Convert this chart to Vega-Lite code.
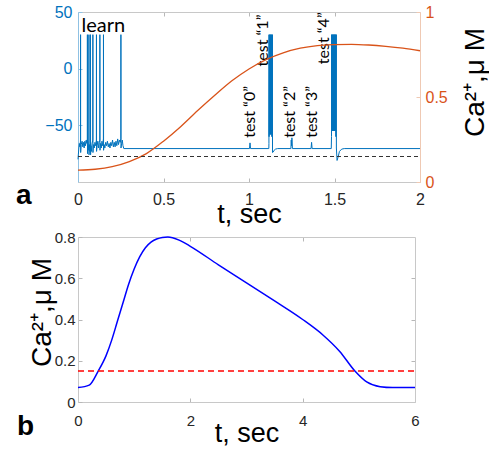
{
  "$schema": "https://vega.github.io/schema/vega-lite/v6.json",
  "background": "white",
  "padding": {"left": 16, "top": 4, "right": 0, "bottom": 0},
  "spacing": 3,
  "config": {
    "view": {"stroke": null},
    "axis": {
      "grid": false,
      "labelFont": "Liberation Sans",
      "titleFont": "Liberation Sans",
      "titleFontWeight": "normal",
      "labelColor": "#262626",
      "titleColor": "#000000",
      "tickSize": -4,
      "tickWidth": 1,
      "domainWidth": 1,
      "labelFontSize": 16,
      "titleFontSize": 27,
      "labelFlush": false,
      "domainColor": "#c8c8c8",
      "tickColor": "#b8b8b8"
    }
  },
  "vconcat": [
    {
      "width": 342,
      "height": 170,
      "title": {"text": "a", "orient": "bottom", "anchor": "start", "frame": "group", "font": "Liberation Sans", "fontSize": 28, "fontWeight": "bold", "color": "#000000", "offset": 0, "dx": -62, "dy": -45},
      "layer": [
        {
          "layer": [
            {
              "data": {"values": [
                {"t":0,"v":-80},{"t":0.002,"v":-76},{"t":0.005,"v":-70},{"t":0.008,"v":-66},{"t":0.011,"v":-69},{"t":0.0145,"v":-64},
                {"t":0.015,"v":30},{"t":0.0155,"v":-74},{"t":0.019,"v":-67},{"t":0.024,"v":-64},{"t":0.028,"v":-69},{"t":0.032,"v":-65},{"t":0.036,"v":-70},{"t":0.040,"v":-64},{"t":0.044,"v":-68},{"t":0.048,"v":-63},{"t":0.052,"v":-66},
                {"t":0.0545,"v":-62},{"t":0.055,"v":30},{"t":0.0555,"v":-75},{"t":0.058,"v":-68},{"t":0.0605,"v":-72},{"t":0.0635,"v":-63},
                {"t":0.064,"v":30},{"t":0.0645,"v":-76},{"t":0.067,"v":-67},{"t":0.070,"v":-73},{"t":0.0725,"v":-62},
                {"t":0.073,"v":30},{"t":0.0735,"v":-76},{"t":0.076,"v":-68},{"t":0.079,"v":-73},{"t":0.082,"v":-66},{"t":0.0865,"v":-63},
                {"t":0.087,"v":30},{"t":0.0875,"v":-74},{"t":0.091,"v":-67},{"t":0.095,"v":-70},{"t":0.099,"v":-65},{"t":0.103,"v":-68},{"t":0.1075,"v":-63},
                {"t":0.108,"v":30},{"t":0.1085,"v":-73},{"t":0.112,"v":-68},{"t":0.116,"v":-64},{"t":0.120,"v":-70},{"t":0.124,"v":-65},{"t":0.1275,"v":-63},
                {"t":0.128,"v":30},{"t":0.1285,"v":-72},{"t":0.132,"v":-66},{"t":0.136,"v":-70},{"t":0.140,"v":-64},{"t":0.144,"v":-68},{"t":0.1485,"v":-62},
                {"t":0.149,"v":30},{"t":0.1495,"v":-72},{"t":0.153,"v":-67},{"t":0.157,"v":-70},{"t":0.162,"v":-65},{"t":0.167,"v":-68},{"t":0.172,"v":-64},{"t":0.177,"v":-69},{"t":0.182,"v":-66},{"t":0.187,"v":-70},{"t":0.192,"v":-65},{"t":0.197,"v":-68},{"t":0.202,"v":-63},{"t":0.207,"v":-69},{"t":0.212,"v":-65},{"t":0.217,"v":-69},{"t":0.222,"v":-64},{"t":0.227,"v":-68},{"t":0.232,"v":-62},{"t":0.237,"v":-67},{"t":0.242,"v":-63},{"t":0.247,"v":-65},
                {"t":0.2505,"v":-62},{"t":0.251,"v":30},{"t":0.2515,"v":-70},{"t":0.255,"v":-66},{"t":0.259,"v":-63},{"t":0.263,"v":-68},{"t":0.268,"v":-70.5},
                {"t":1.003,"v":-70.5},{"t":1.006,"v":-65.5},{"t":1.009,"v":-70.5},
                {"t":1.116,"v":-70.5},{"t":1.1165,"v":-66},{"t":1.117,"v":30},{"t":1.1175,"v":-60},{"t":1.121,"v":30},{"t":1.1215,"v":-58},{"t":1.125,"v":30},{"t":1.1255,"v":-58},{"t":1.129,"v":30},{"t":1.1295,"v":-58},{"t":1.133,"v":30},{"t":1.1335,"v":-60},{"t":1.137,"v":30},{"t":1.1375,"v":-74},{"t":1.142,"v":-73.5},{"t":1.147,"v":-72},{"t":1.155,"v":-71},{"t":1.167,"v":-70.5},
                {"t":1.245,"v":-70.5},{"t":1.247,"v":-63},{"t":1.249,"v":-68},{"t":1.251,"v":-61},{"t":1.254,"v":-70.5},
                {"t":1.363,"v":-70.5},{"t":1.366,"v":-65},{"t":1.369,"v":-70.5},
                {"t":1.481,"v":-70.5},{"t":1.4825,"v":-60},{"t":1.483,"v":30},{"t":1.4835,"v":-55},{"t":1.4865,"v":30},{"t":1.487,"v":-55},{"t":1.490,"v":30},{"t":1.4905,"v":-55},{"t":1.4935,"v":30},{"t":1.494,"v":-55},{"t":1.497,"v":30},{"t":1.4975,"v":-55},{"t":1.5005,"v":30},{"t":1.501,"v":-55},{"t":1.504,"v":30},{"t":1.5045,"v":-55},{"t":1.5075,"v":30},{"t":1.508,"v":-60},{"t":1.5105,"v":30},{"t":1.511,"v":-70},{"t":1.515,"v":-81},{"t":1.521,"v":-78},{"t":1.529,"v":-73},{"t":1.542,"v":-71},{"t":1.557,"v":-70.5},
                {"t":2.0,"v":-70.5}
              ]},
              "mark": {"type": "line", "color": "#0072BD", "strokeWidth": 1},
              "encoding": {
                "x": {"field": "t", "type": "quantitative", "scale": {"domain": [0, 2], "nice": false},
                  "axis": {"orient": "bottom", "values": [0, 0.5, 1, 1.5, 2], "format": "~g", "title": "t, sec", "labelPadding": 13, "titleY": 40, "titleBaseline": "alphabetic"}},
                "y": {"field": "v", "type": "quantitative", "scale": {"domain": [-100, 50], "nice": false, "zero": false},
                  "axis": {"orient": "left", "values": [-50, 0, 50], "title": null, "labelColor": "#0072BD", "domainColor": "#8fc1e3", "tickColor": "#8fc1e3", "labelPadding": 10}}
              }
            },
            {
              "data": {"values": [{"t": 0.02, "v": 32, "label": "learn"}]},
              "mark": {"type": "text", "align": "left", "baseline": "alphabetic", "font": "Lato", "fontSize": 20, "color": "#000000"},
              "encoding": {
                "x": {"field": "t", "type": "quantitative"},
                "y": {"field": "v", "type": "quantitative"},
                "text": {"field": "label"}
              }
            },
            {
              "data": {"values": [
                {"t": 1.035, "v": -61, "label": "test “0”"},
                {"t": 1.111, "v": 2, "label": "test “1”"},
                {"t": 1.269, "v": -61, "label": "test “2”"},
                {"t": 1.398, "v": -61, "label": "test “3”"},
                {"t": 1.468, "v": 4, "label": "test “4”"}
              ]},
              "mark": {"type": "text", "angle": 270, "align": "left", "baseline": "alphabetic", "font": "Lato", "fontSize": 16, "color": "#000000"},
              "encoding": {
                "x": {"field": "t", "type": "quantitative"},
                "y": {"field": "v", "type": "quantitative"},
                "text": {"field": "label"}
              }
            }
          ]
        },
        {
          "layer": [
            {
              "data": {"values": [
                {"t":0,"c":0.07},{"t":0.1,"c":0.075},{"t":0.2,"c":0.09},{"t":0.3,"c":0.12},{"t":0.4,"c":0.167},{"t":0.5,"c":0.24},{"t":0.6,"c":0.325},{"t":0.7,"c":0.42},{"t":0.8,"c":0.51},{"t":0.9,"c":0.595},{"t":1.0,"c":0.665},{"t":1.1,"c":0.72},{"t":1.2,"c":0.76},{"t":1.3,"c":0.787},{"t":1.4,"c":0.802},{"t":1.5,"c":0.808},{"t":1.6,"c":0.81},{"t":1.7,"c":0.806},{"t":1.8,"c":0.798},{"t":1.9,"c":0.787},{"t":2.0,"c":0.772}
              ]},
              "mark": {"type": "line", "color": "#D95319", "strokeWidth": 1.3, "interpolate": "monotone"},
              "encoding": {
                "x": {"field": "t", "type": "quantitative", "scale": {"domain": [0, 2], "nice": false},
                  "axis": {"orient": "top", "labels": false, "title": null, "values": [0.5, 1, 1.5]}},
                "y": {"field": "c", "type": "quantitative", "scale": {"domain": [0, 1], "nice": false},
                  "axis": {"orient": "right", "values": [0, 0.5, 1], "format": "~g", "labelColor": "#D95319", "domainColor": "#efc9b3", "tickColor": "#efc9b3", "labelPadding": 9, "title": "Ca²⁺,μ M", "titleFontSize": 28, "titleAngle": 270, "titleAlign": "center", "titleBaseline": "alphabetic", "titleX": 63, "titleY": 70}}
              }
            },
            {
              "data": {"values": [{"t": 0, "c": 0.15}, {"t": 2, "c": 0.15}]},
              "mark": {"type": "line", "color": "#333333", "strokeWidth": 1.2, "strokeDash": [4, 3]},
              "encoding": {
                "x": {"field": "t", "type": "quantitative"},
                "y": {"field": "c", "type": "quantitative"}
              }
            }
          ]
        }
      ],
      "resolve": {"scale": {"y": "independent"}, "axis": {"x": "independent"}}
    },
    {
      "width": 337,
      "height": 165,
      "title": {"text": "b", "orient": "bottom", "anchor": "start", "frame": "group", "font": "Liberation Sans", "fontSize": 28, "fontWeight": "bold", "color": "#000000", "offset": 0, "dx": -61, "dy": -33},
      "layer": [
        {
          "data": {"values": [
            {"t":0,"c":0.07},{"t":0.2,"c":0.082},{"t":0.36,"c":0.15},{"t":0.5,"c":0.225},{"t":0.6,"c":0.3},{"t":0.7,"c":0.39},{"t":0.8,"c":0.48},{"t":0.9,"c":0.57},{"t":1.0,"c":0.645},{"t":1.1,"c":0.705},{"t":1.2,"c":0.748},{"t":1.3,"c":0.775},{"t":1.4,"c":0.79},{"t":1.5,"c":0.798},{"t":1.6,"c":0.8},{"t":1.8,"c":0.785},{"t":2.0,"c":0.755},{"t":2.5,"c":0.665},{"t":3.0,"c":0.578},{"t":3.5,"c":0.49},{"t":4.0,"c":0.4},{"t":4.36,"c":0.325},{"t":4.66,"c":0.245},{"t":4.93,"c":0.15},{"t":5.14,"c":0.097},{"t":5.38,"c":0.074},{"t":5.6,"c":0.07},{"t":6.0,"c":0.07}
          ]},
          "mark": {"type": "line", "color": "#0000FF", "strokeWidth": 1.5, "interpolate": "monotone"},
          "encoding": {
            "x": {"field": "t", "type": "quantitative", "scale": {"domain": [0, 6], "nice": false},
              "axis": {"orient": "bottom", "values": [0, 2, 4, 6], "title": "t, sec", "labelFontSize": 15, "labelPadding": 15, "titleY": 39, "titleBaseline": "alphabetic"}},
            "y": {"field": "c", "type": "quantitative", "scale": {"domain": [0, 0.8], "nice": false},
              "axis": {"orient": "left", "values": [0, 0.2, 0.4, 0.6, 0.8], "format": "~g", "labelFontSize": 15, "labelPadding": 7, "title": "Ca²⁺,μ M", "titleFontSize": 28, "titleAngle": 270, "titleAlign": "center", "titleBaseline": "alphabetic", "titleX": -28, "titleY": 75}}
          }
        },
        {
          "data": {"values": [{"t": 0, "c": 0.15}, {"t": 6, "c": 0.15}]},
          "mark": {"type": "line", "color": "#FF0000", "strokeWidth": 1.5, "strokeDash": [6, 4]},
          "encoding": {
            "x": {"field": "t", "type": "quantitative", "scale": {"domain": [0, 6], "nice": false},
              "axis": {"orient": "top", "labels": false, "title": null, "values": [2, 4]}},
            "y": {"field": "c", "type": "quantitative", "scale": {"domain": [0, 0.8], "nice": false},
              "axis": {"orient": "right", "labels": false, "title": null, "values": [0.2, 0.4, 0.6]}}
          }
        }
      ],
      "resolve": {"axis": {"x": "independent", "y": "independent"}}
    }
  ]
}
